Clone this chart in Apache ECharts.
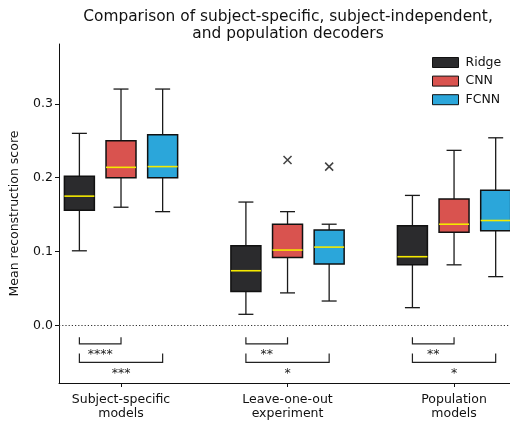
<!DOCTYPE html>
<html>
<head>
<meta charset="utf-8">
<script src="https://cdn.jsdelivr.net/npm/echarts@6/dist/echarts.min.js"></script>
<style>
  html, body { margin: 0; padding: 0; background: #fff; }
  #chart { width: 510px; height: 421px; }
</style>
</head>
<body>
<div id="chart"></div>
<script>
// categories and models
var categories = ['Subject-specific\nmodels', 'Leave-one-out\nexperiment', 'Population\nmodels'];
var models = ['Ridge', 'CNN', 'FCNN'];
var yTicks = [0.0, 0.1, 0.2, 0.3];

// box stats per group: [group, min, q1, median, q3, max]
var ridgeStats = [
    [0, 0.101, 0.156, 0.175, 0.202, 0.260],
    [1, 0.015, 0.046, 0.074, 0.108, 0.167],
    [2, 0.024, 0.082, 0.093, 0.135, 0.176]
];
var cnnStats = [
    [0, 0.160, 0.200, 0.214, 0.250, 0.320],
    [1, 0.044, 0.092, 0.102, 0.137, 0.154],
    [2, 0.082, 0.126, 0.137, 0.171, 0.237]
];
var fcnnStats = [
    [0, 0.154, 0.200, 0.215, 0.258, 0.320],
    [1, 0.033, 0.083, 0.106, 0.129, 0.137],
    [2, 0.066, 0.128, 0.142, 0.183, 0.254]
];

// outliers: [group, value]
var cnnOutliers = [[1, 0.224]];
var fcnnOutliers = [[1, 0.215]];

// significance labels: Ridge vs CNN, Ridge vs FCNN
var sigRidgeCnn = ['****', '**', '**'];
var sigRidgeFcnn = ['***', '*', '*'];

var colors = { Ridge: '#2b2b2d', CNN: '#d9534f', FCNN: '#2ba6da' };
var offsets = { Ridge: -0.25, CNN: 0, FCNN: 0.25 };
var FONT = 'DejaVu Sans';

function boxRender(offset, color) {
    return function (params, api) {
        var x = api.value(0) + offset;
        var halfW = 0.09, capW = 0.045;
        var pMin = api.coord([x, api.value(1)]);
        var pQ1 = api.coord([x, api.value(2)]);
        var pMed = api.coord([x, api.value(3)]);
        var pQ3 = api.coord([x, api.value(4)]);
        var pMax = api.coord([x, api.value(5)]);
        var l = api.coord([x - halfW, 0])[0];
        var r = api.coord([x + halfW, 0])[0];
        var cl = api.coord([x - capW, 0])[0];
        var cr = api.coord([x + capW, 0])[0];
        var wStyle = { stroke: '#1a1a1a', lineWidth: 1.3 };
        return {
            type: 'group',
            children: [
                { type: 'line', shape: { x1: pMax[0], y1: pMax[1], x2: pQ3[0], y2: pQ3[1] }, style: wStyle },
                { type: 'line', shape: { x1: pMin[0], y1: pMin[1], x2: pQ1[0], y2: pQ1[1] }, style: wStyle },
                { type: 'line', shape: { x1: cl, y1: pMax[1], x2: cr, y2: pMax[1] }, style: wStyle },
                { type: 'line', shape: { x1: cl, y1: pMin[1], x2: cr, y2: pMin[1] }, style: wStyle },
                { type: 'rect', shape: { x: l, y: pQ3[1], width: r - l, height: pQ1[1] - pQ3[1] },
                  style: { fill: color, stroke: '#111', lineWidth: 1.5 } },
                { type: 'line', shape: { x1: l, y1: pMed[1], x2: r, y2: pMed[1] },
                  style: { stroke: '#f5ea00', lineWidth: 1.6 } }
            ]
        };
    };
}

// brackets: [group, offset of compared model, label, level]
var bracketData = [];
for (var g = 0; g < categories.length; g++) {
    bracketData.push([g, offsets.CNN, sigRidgeCnn[g], 0]);
    bracketData.push([g, offsets.FCNN, sigRidgeFcnn[g], 1]);
}
var levels = [
    { top: -0.016, bar: -0.025, dy: 11 },
    { top: -0.038, bar: -0.050, dy: 11 }
];

function bracketRender(params, api) {
    var g = api.value(0);
    var d = bracketData[params.dataIndex];
    var lv = levels[d[3]];
    var x1 = g + offsets.Ridge, x2 = g + d[1];
    var a = api.coord([x1, lv.top]);
    var b = api.coord([x1, lv.bar]);
    var c = api.coord([x2, lv.bar]);
    var e = api.coord([x2, lv.top]);
    return {
        type: 'group',
        children: [
            { type: 'polyline', shape: { points: [a, b, c, e] },
              style: { stroke: '#222', lineWidth: 1.2, fill: null } },
            { type: 'text', x: (b[0] + c[0]) / 2, y: b[1] + lv.dy,
              style: { text: d[2], fill: '#222', font: '12.5px "' + FONT + '"',
                       align: 'center', verticalAlign: 'middle' } }
        ]
    };
}

var chart = echarts.init(document.getElementById('chart'));
var crossPath = 'path://M0,0L10,10M10,0L0,10';

var option = {
    animation: false,
    title: {
        text: 'Comparison of subject-specific, subject-independent,\nand population decoders',
        left: 283, top: 4, textAlign: 'center',
        textStyle: { fontFamily: FONT, fontSize: 15.4, fontWeight: 'normal', color: '#111', lineHeight: 16.5 }
    },
    legend: {
        data: models,
        orient: 'vertical',
        left: 427, top: 50.5,
        icon: 'rect',
        itemWidth: 26, itemHeight: 10, itemGap: 4.6,
        selectedMode: false,
        itemStyle: { borderColor: '#111', borderWidth: 1 },
        textStyle: { fontFamily: FONT, fontSize: 12.5, color: '#111', lineHeight: 14, padding: [0, 0, 0, 2] }
    },
    grid: { left: 59, right: 0, top: 44, bottom: 36 },
    xAxis: {
        type: 'value',
        min: -0.3724, max: 2.336,
        splitLine: { show: false },
        axisLine: { show: true, onZero: false, lineStyle: { color: '#111', width: 1 } },
        axisTick: { show: true, customValues: [0, 1, 2], length: 4, lineStyle: { color: '#111' } },
        axisLabel: {
            customValues: [0, 1, 2],
            formatter: function (v) { return categories[Math.round(v)]; },
            fontFamily: FONT, fontSize: 12.5, color: '#111', lineHeight: 14, margin: 10
        }
    },
    yAxis: {
        type: 'value',
        min: -0.078, max: 0.381,
        name: 'Mean reconstruction score',
        nameLocation: 'middle',
        nameGap: 38,
        nameTextStyle: { fontFamily: FONT, fontSize: 12.5, color: '#111' },
        splitLine: { show: false },
        axisLine: { show: true, onZero: false, lineStyle: { color: '#111', width: 1 } },
        axisTick: { show: true, customValues: yTicks, length: 4, lineStyle: { color: '#111' } },
        axisLabel: {
            customValues: yTicks,
            formatter: function (v) { return v.toFixed(1); },
            fontFamily: FONT, fontSize: 12.5, color: '#111', margin: 6
        }
    },
    series: [
        {
            name: 'Ridge', type: 'custom', renderItem: boxRender(offsets.Ridge, colors.Ridge),
            itemStyle: { color: colors.Ridge }, data: ridgeStats,
            encode: { x: 0, y: [1, 2, 3, 4, 5] },
            markLine: {
                silent: true, symbol: 'none', label: { show: false },
                lineStyle: { type: [1.2, 2], color: '#333', width: 1.1 },
                data: [{ yAxis: 0 }]
            }
        },
        {
            name: 'CNN', type: 'custom', renderItem: boxRender(offsets.CNN, colors.CNN),
            itemStyle: { color: colors.CNN }, data: cnnStats,
            encode: { x: 0, y: [1, 2, 3, 4, 5] }
        },
        {
            name: 'FCNN', type: 'custom', renderItem: boxRender(offsets.FCNN, colors.FCNN),
            itemStyle: { color: colors.FCNN }, data: fcnnStats,
            encode: { x: 0, y: [1, 2, 3, 4, 5] }
        },
        {
            type: 'scatter', symbol: crossPath, symbolSize: 8, silent: true,
            itemStyle: { color: 'transparent', borderColor: '#111', borderWidth: 1.5 },
            data: cnnOutliers.map(function (p) { return [p[0] + offsets.CNN, p[1]]; })
        },
        {
            type: 'scatter', symbol: crossPath, symbolSize: 8, silent: true,
            itemStyle: { color: 'transparent', borderColor: '#111', borderWidth: 1.5 },
            data: fcnnOutliers.map(function (p) { return [p[0] + offsets.FCNN, p[1]]; })
        },
        {
            type: 'custom', renderItem: bracketRender, silent: true,
            data: bracketData.map(function (d) { return [d[0]]; }),
            encode: { x: 0 }
        }
    ]
};

chart.setOption(option);
</script>
</body>
</html>
